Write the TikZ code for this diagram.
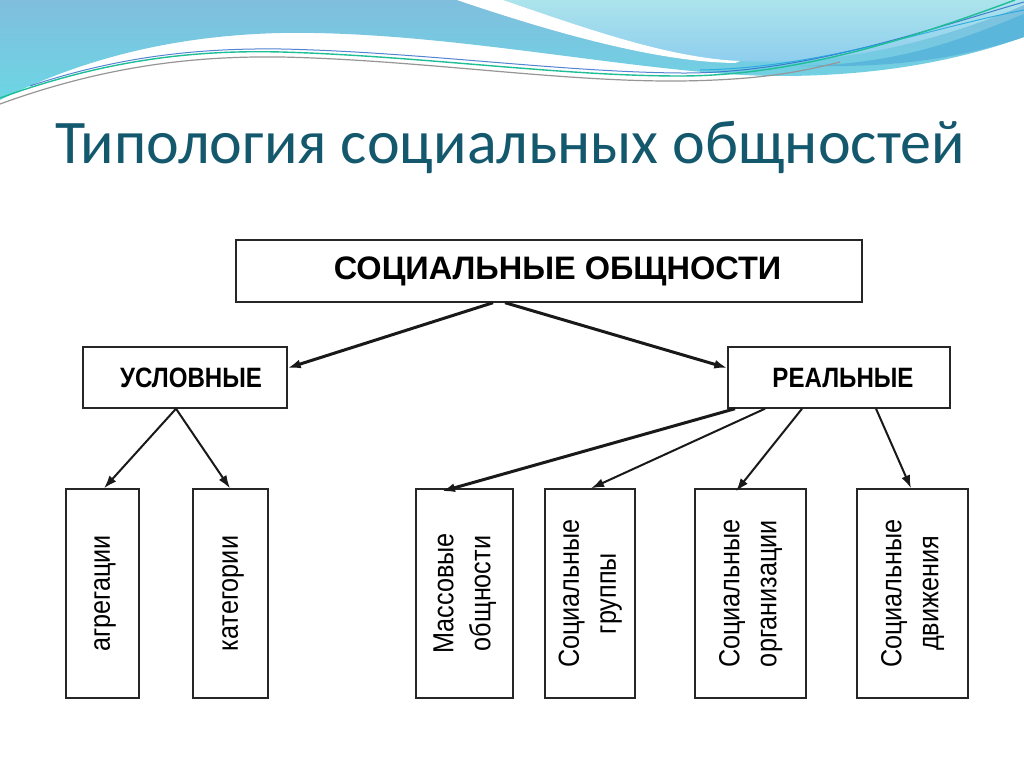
\documentclass[tikz,border=0pt]{standalone}
\usepackage{fontspec}
\setmainfont{Liberation Sans}
\newfontfamily\titlefont{Carlito}
\usetikzlibrary{arrows.meta,calc}
\definecolor{titleblue}{RGB}{20,88,110}
\definecolor{waveA}{RGB}{128,190,222}
\definecolor{waveAb}{RGB}{108,214,228}
\definecolor{waveB}{RGB}{172,228,236}
\definecolor{waveBb}{RGB}{140,204,238}
\definecolor{waveD}{RGB}{90,182,218}
\definecolor{lgreen}{RGB}{30,190,150}
\definecolor{lblue}{RGB}{40,100,200}
\definecolor{lgray}{RGB}{150,150,150}
\newcommand\vtxt[1]{\scalebox{0.87}[1]{\begin{tabular}{@{}c@{}}#1\end{tabular}}}
\newcommand\htxt[1]{\scalebox{0.86}[1]{#1}}
\begin{document}
\begin{tikzpicture}[x=1pt,y=-1pt,
  box/.style={draw=black!85, line width=1.4pt, fill=white, inner sep=0pt},
  arr/.style={-{Latex[length=13pt,width=9pt]}, line width=2pt, draw=black!90},
  arrthick/.style={arr, line width=3pt},
  vtext/.style={rotate=90, font=\fontsize{29}{37}\selectfont, inner sep=0pt},
  htext/.style={font=\bfseries\fontsize{28}{33}\selectfont}
]
\useasboundingbox (0,0) rectangle (1024,767);
\fill[white] (0,0) rectangle (1024,767);

% ---- wave decoration ----
\shade[top color=waveA, bottom color=waveAb]
  (0,0) -- (1024,0) -- (1024,37)
  .. controls (960,60) and (880,76) .. (780,76)
  .. controls (650,76) and (450,30) .. (281,33)
  .. controls (150,36) and (60,70) .. (0,100) -- cycle;
\fill[waveD]
  (800,66) .. controls (900,64) and (960,40) .. (1024,14)
  -- (1024,37) .. controls (960,58) and (900,68) .. (800,66) -- cycle;
\shade[top color=waveB, bottom color=waveBb]
  (503,0) .. controls (590,30) and (670,58) .. (740,61)
  .. controls (830,66) and (930,45) .. (1024,5) -- (1024,0) -- cycle;
\fill[white]
  (457,0) .. controls (560,35) and (660,62) .. (735,63)
  -- (740,61) .. controls (670,58) and (590,30) .. (503,0) -- cycle;
\draw[lgray, line width=1.2pt]
  (0,104) .. controls (110,64) and (200,56) .. (281,57)
  .. controls (420,60) and (560,82) .. (680,81)
  .. controls (760,80) and (800,72) .. (840,62);
\draw[lblue, line width=1pt, opacity=0.8]
  (30,86) .. controls (120,56) and (200,48) .. (281,49)
  .. controls (420,52) and (560,72) .. (680,73)
  .. controls (800,74) and (920,32) .. (1024,2);
\draw[lblue!60!cyan, line width=1pt, opacity=0.8]
  (700,70) .. controls (820,68) and (930,28) .. (1024,10);
\draw[lgreen, line width=1.4pt]
  (0,98) .. controls (110,58) and (200,50) .. (281,52)
  .. controls (420,56) and (560,76) .. (680,76)
  .. controls (800,76) and (920,35) .. (1015,0);

% ---- title ----
\node[anchor=base west, text=titleblue, inner sep=0pt,
      font=\titlefont\fontsize{62}{74}\selectfont] (title) at (55,164)
  {Типология социальных общностей};

% ---- boxes ----
\node[box, minimum width=626pt, minimum height=62pt,
      font=\bfseries\fontsize{32.5}{39}\selectfont] (top) at (549,271)
  {\hspace*{17pt}СОЦИАЛЬНЫЕ ОБЩНОСТИ};
\node[box, minimum width=204pt, minimum height=61pt, htext] (usl) at (185,377.5)
  {\hspace*{12pt}\htxt{УСЛОВНЫЕ}};
\node[box, minimum width=222pt, minimum height=61pt, htext] (real) at (839,377.5)
  {\hspace*{8pt}\htxt{РЕАЛЬНЫЕ}};

\node[box, minimum width=73pt, minimum height=209pt] (agr) at (102.5,593.5) {};
\node[box, minimum width=75pt, minimum height=209pt] (kat) at (230.5,593.5) {};
\node[box, minimum width=97pt, minimum height=209pt] (mass) at (464.5,593.5) {};
\node[box, minimum width=90pt, minimum height=209pt] (grp) at (590,593.5) {};
\node[box, minimum width=111pt, minimum height=209pt] (org) at (750.5,593.5) {};
\node[box, minimum width=111pt, minimum height=209pt] (mov) at (912.5,593.5) {};

\node[vtext] (tagr) at (agr.center) {\vtxt{агрегации}};
\node[vtext] (tkat) at (kat.center) {\vtxt{категории}};
\node[vtext] (tmass) at (mass.center) {\vtxt{Массовые\\общности}};
\node[vtext] (tgrp) at (grp.center) {\vtxt{Социальные\\группы}};
\node[vtext] (torg) at (org.center) {\vtxt{Социальные\\организации}};
\node[vtext] (tmov) at (mov.center) {\vtxt{Социальные\\движения}};

% ---- arrows ----
\draw[arrthick] ($(top.south)+(-56,0)$) -- ($(usl.east)+(0,-9.5)$);
\draw[arrthick] ($(top.south)+(-44,0)$) -- ($(real.west)+(0,-9.5)$);
\draw[arr] ($(usl.south)+(-9,0)$) -- ($(agr.north)+(1.5,0)$);
\draw[arr] ($(usl.south)+(-9,0)$) -- ($(kat.north)+(-0.5,0)$);
\draw[arrthick] ($(real.south)+(-104,0)$) -- ($(mass.north)+(-22.5,3)$);
\draw[arr] ($(real.south)+(-74,0)$) -- ($(grp.north)+(1,0)$);
\draw[arr] ($(real.south)+(-37,0)$) -- ($(org.north)+(-14.5,3)$);
\draw[arr] ($(real.south)+(37,0)$) -- ($(mov.north)+(-1.5,0)$);
\end{tikzpicture}
\end{document}
